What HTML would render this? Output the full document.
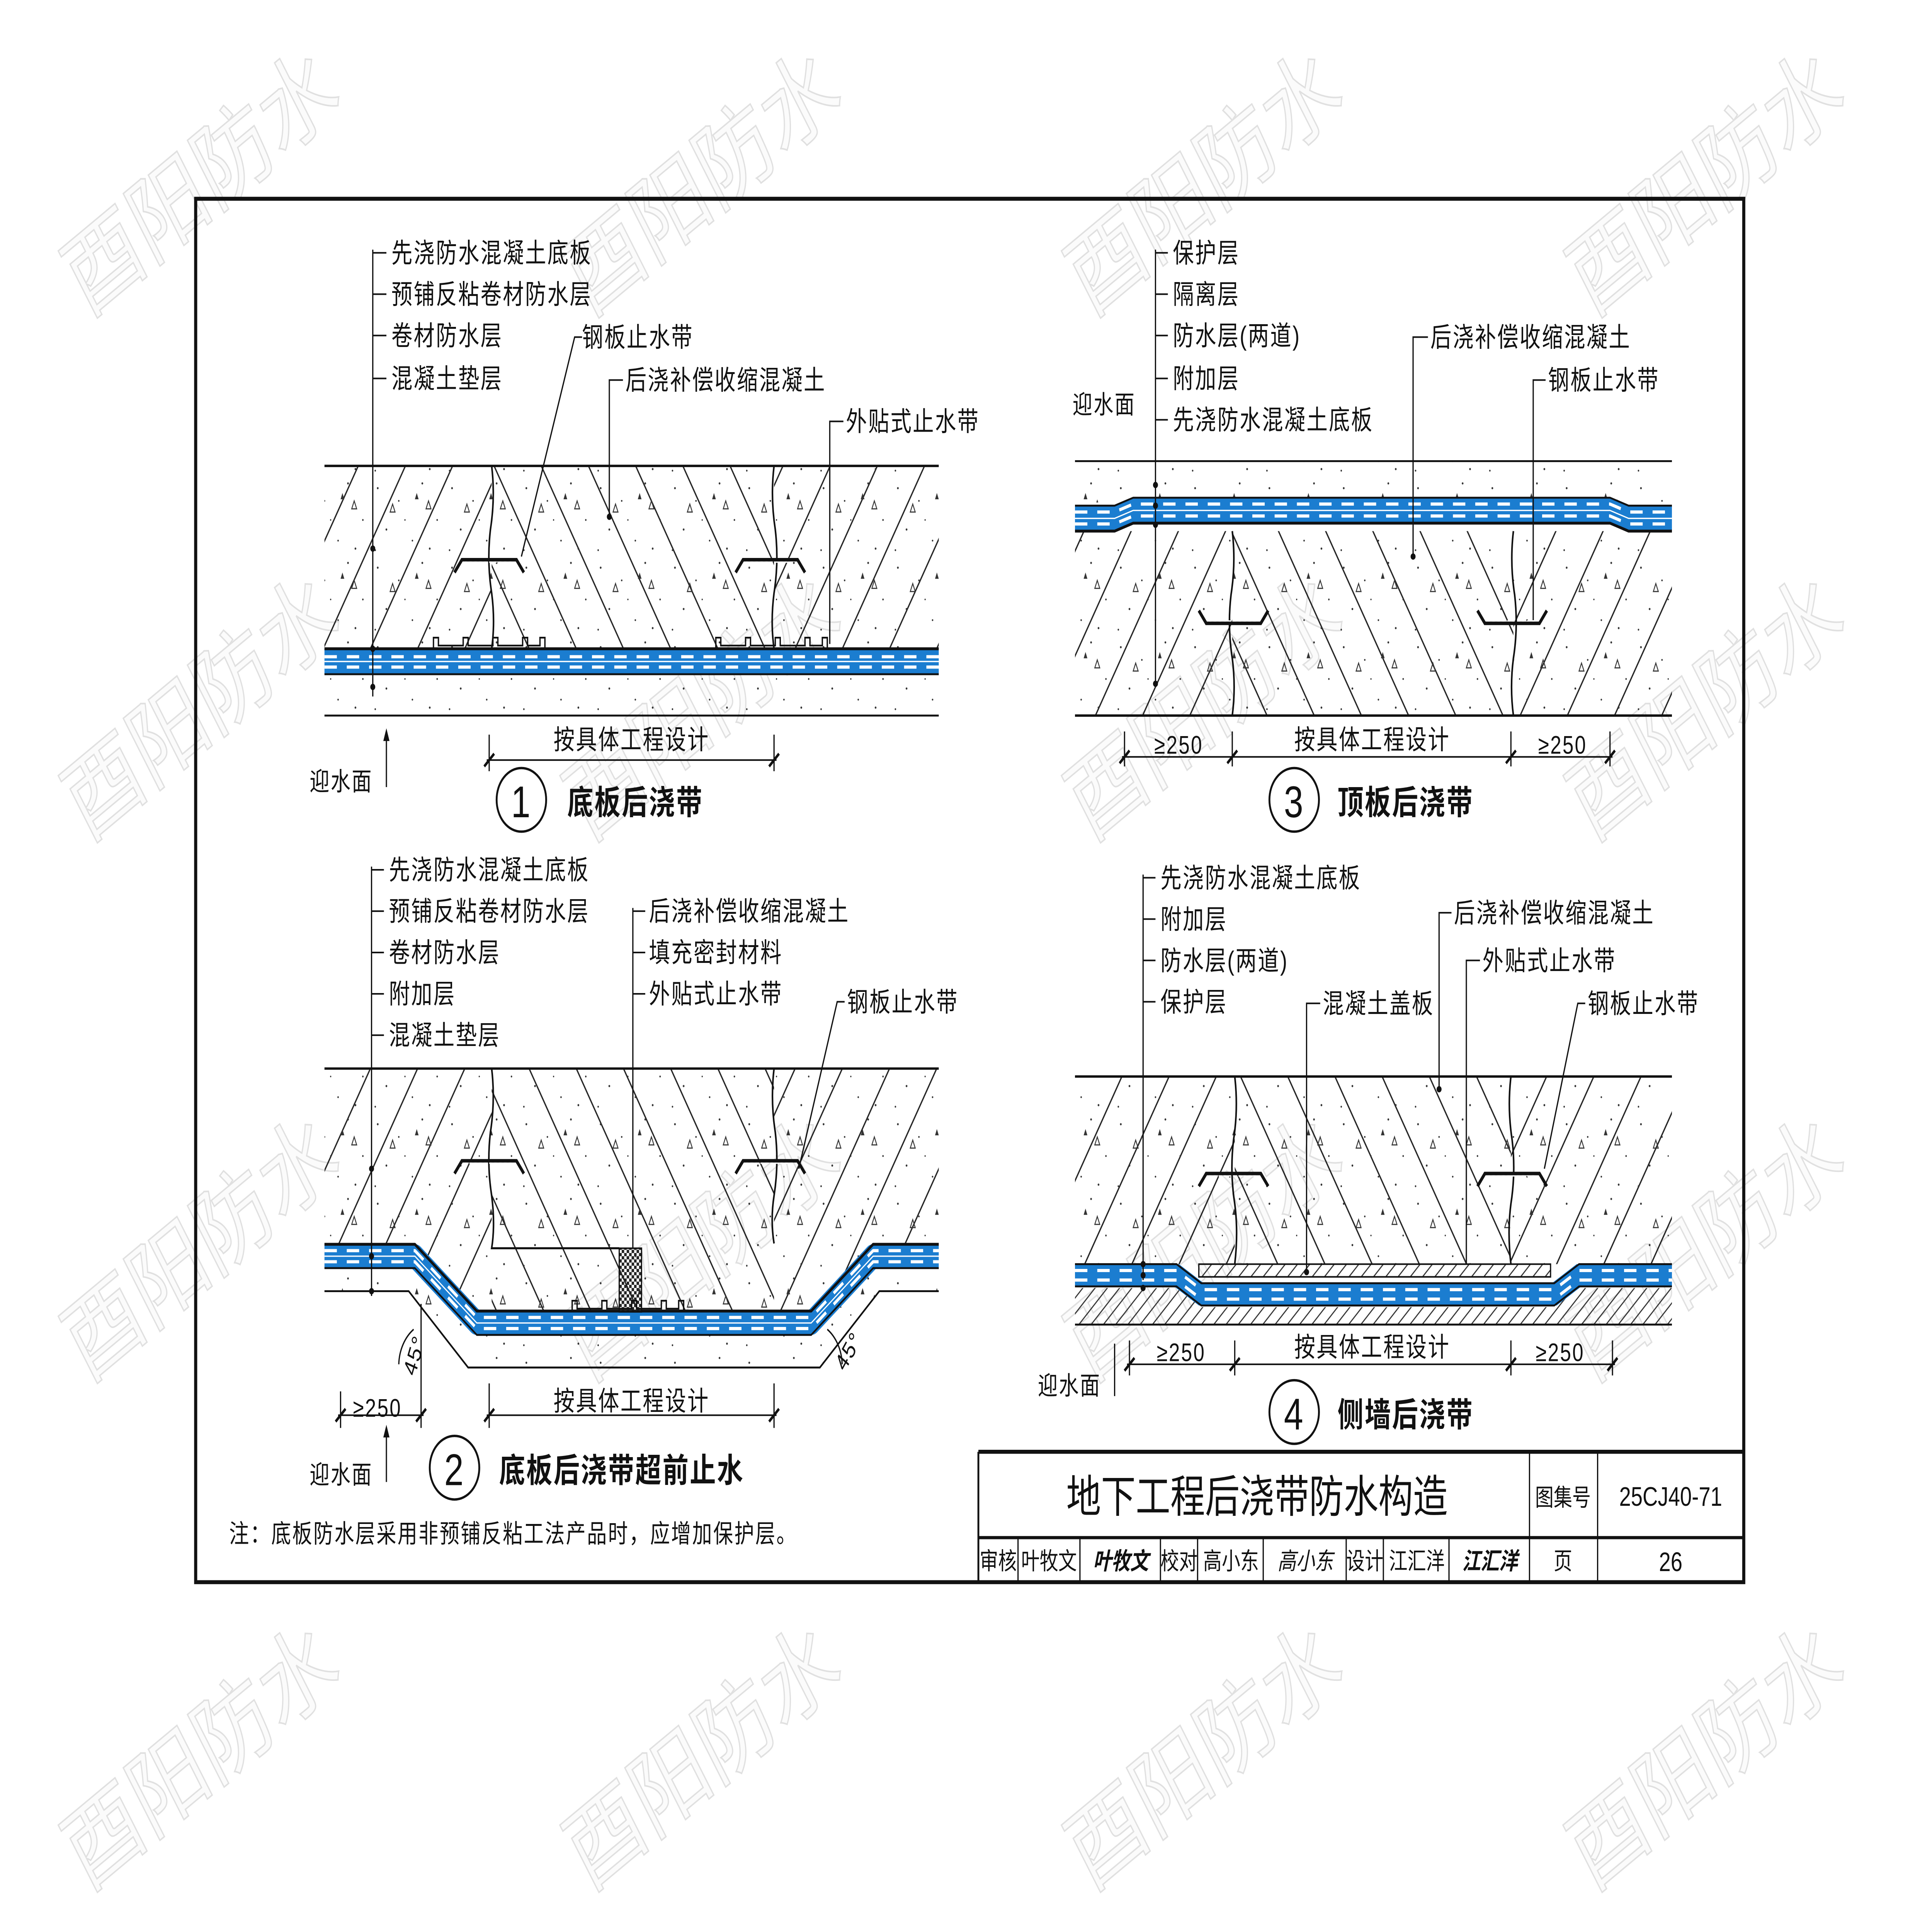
<!DOCTYPE html>
<html><head><meta charset="utf-8"><style>
html,body{margin:0;padding:0;background:#fff;width:100%;height:100%;overflow:hidden}
svg{display:block;width:100vw;height:100vh}
text{font-family:"Liberation Sans","Noto Sans CJK SC",sans-serif}
.t text{fill:#111}
.wm text{fill:#fbfbfb;stroke:#e0e0e0;stroke-width:1}
</style></head><body>
<svg viewBox="0 0 1560 1215" preserveAspectRatio="none" xmlns="http://www.w3.org/2000/svg" xmlns:xlink="http://www.w3.org/1999/xlink">
<defs>
<pattern id="hF" patternUnits="userSpaceOnUse" width="33" height="33" patternTransform="rotate(30)"><line x1="1" y1="0" x2="1" y2="33" stroke="#222" stroke-width="1"/></pattern>
<pattern id="hB" patternUnits="userSpaceOnUse" width="33" height="33" patternTransform="rotate(-30)"><line x1="1" y1="0" x2="1" y2="33" stroke="#222" stroke-width="1"/></pattern>
<pattern id="h45" patternUnits="userSpaceOnUse" width="7" height="7" patternTransform="rotate(45)"><line x1="1" y1="0" x2="1" y2="7" stroke="#333" stroke-width="0.8"/></pattern>
<pattern id="chk" patternUnits="userSpaceOnUse" width="4" height="4"><rect width="2" height="2" fill="#222"/><rect x="2" y="2" width="2" height="2" fill="#222"/></pattern>
<pattern id="dots" patternUnits="userSpaceOnUse" width="60" height="50">
<circle cx="5" cy="7" r="0.7" fill="#333"/><circle cx="22" cy="15" r="0.6" fill="#333"/><circle cx="41" cy="4" r="0.7" fill="#333"/><circle cx="53" cy="27" r="0.6" fill="#333"/><circle cx="12" cy="33" r="0.7" fill="#333"/><circle cx="33" cy="40" r="0.6" fill="#333"/><circle cx="47" cy="45" r="0.7" fill="#333"/><circle cx="27" cy="27" r="0.5" fill="#333"/><circle cx="3" cy="46" r="0.6" fill="#333"/>
<path d="M15,22 l2,-5 l2,5z" fill="none" stroke="#333" stroke-width="0.7"/><path d="M44,20 l2,-5 l2,5z" fill="none" stroke="#333" stroke-width="0.7"/><path d="M35,14 l1.5,-4 l1.5,4z" fill="#333"/>
</pattern>
<g id="plate"><path d="M-28,8 L-22,0 L22,0 L28,8" fill="none" stroke="#111" stroke-width="2.2"/><line x1="-20" y1="1.5" x2="20" y2="1.5" stroke="#fff" stroke-width="0.8" stroke-dasharray="2 2"/></g>
<g id="teeth" fill="none" stroke="#111" stroke-width="1.1"><path d="M0,0 v-7 h4 v5 h20 v-5 h4 v5 h20 v-5 h4 v5 h20 v-5 h4 v5 h10 v-5 h4 v7"/></g>
</defs>

<rect width="1560" height="1215" fill="#fff"/>

<g class="wm" font-size="62">
<text transform="translate(70,200) rotate(-33)">酉阳防水</text>
<text transform="translate(475,200) rotate(-33)">酉阳防水</text>
<text transform="translate(880,200) rotate(-33)">酉阳防水</text>
<text transform="translate(1285,200) rotate(-33)">酉阳防水</text>
<text transform="translate(70,530) rotate(-33)">酉阳防水</text>
<text transform="translate(475,530) rotate(-33)">酉阳防水</text>
<text transform="translate(880,530) rotate(-33)">酉阳防水</text>
<text transform="translate(1285,530) rotate(-33)">酉阳防水</text>
<text transform="translate(70,870) rotate(-33)">酉阳防水</text>
<text transform="translate(475,870) rotate(-33)">酉阳防水</text>
<text transform="translate(880,870) rotate(-33)">酉阳防水</text>
<text transform="translate(1285,870) rotate(-33)">酉阳防水</text>
<text transform="translate(70,1190) rotate(-33)">酉阳防水</text>
<text transform="translate(475,1190) rotate(-33)">酉阳防水</text>
<text transform="translate(880,1190) rotate(-33)">酉阳防水</text>
<text transform="translate(1285,1190) rotate(-33)">酉阳防水</text>
</g>

<rect x="158" y="125" width="1250" height="870" fill="none" stroke="#111" stroke-width="2.5"/>

<g class="t" font-size="17" letter-spacing="1">
<!-- PANEL 1 -->
<rect x="262" y="293" width="135" height="115" fill="url(#hF)"/>
<rect x="397" y="293" width="228" height="115" fill="url(#hB)"/>
<rect x="625" y="293" width="133" height="115" fill="url(#hF)"/>
<rect x="262" y="293" width="496" height="115" fill="url(#dots)"/>
<rect x="262" y="424" width="496" height="26" fill="url(#dots)"/>
<line x1="262" y1="293" x2="758" y2="293" stroke="#111" stroke-width="1.5"/>
<line x1="262" y1="450" x2="758" y2="450" stroke="#111" stroke-width="1.2"/>
<path d="M397,293 q3,20 -1,40 q-3,20 1,40 q3,18 0,35" fill="none" stroke="#111" stroke-width="1.3"/>
<path d="M625,293 q-3,20 1,40 q3,20 -1,40 q-3,18 0,35" fill="none" stroke="#111" stroke-width="1.3"/>
<use href="#plate" x="395" y="352"/><use href="#plate" x="622" y="352"/>
<use href="#teeth" x="350" y="408"/><use href="#teeth" x="578" y="408"/>
<rect x="262" y="408" width="496" height="16" fill="#1b7dd0"/>
<line x1="262" y1="413" x2="758" y2="413" stroke="#fff" stroke-width="2" stroke-dasharray="10 8"/>
<line x1="262" y1="416" x2="758" y2="416" stroke="#fff" stroke-width="0.8"/>
<line x1="262" y1="419.5" x2="758" y2="419.5" stroke="#fff" stroke-width="2" stroke-dasharray="10 8"/>
<line x1="262" y1="408" x2="758" y2="408" stroke="#111" stroke-width="1.8"/>
<line x1="262" y1="424" x2="758" y2="424" stroke="#111" stroke-width="1.2"/>
<g stroke="#111" stroke-width="1" fill="none">
<line x1="301" y1="157" x2="301" y2="438"/>
<line x1="301" y1="159" x2="312" y2="159"/><line x1="301" y1="185" x2="312" y2="185"/><line x1="301" y1="211" x2="312" y2="211"/><line x1="301" y1="238" x2="312" y2="238"/>
<path d="M470,212 h-6 L421,350"/>
<path d="M503,239 h-11 V325"/>
<path d="M681,265 h-11 V405"/>
<line x1="395" y1="462" x2="395" y2="485"/><line x1="625" y1="462" x2="625" y2="485"/>
<line x1="393" y1="478" x2="627" y2="478"/>
<line x1="312" y1="495" x2="312" y2="462"/>
</g>
<g fill="#111"><circle cx="301" cy="345" r="2"/><circle cx="301" cy="408" r="2"/><circle cx="301" cy="432" r="2"/><circle cx="492" cy="325" r="2"/><path d="M312,458 l-2.5,8 h5z"/></g>
<path d="M391,482 l8,-8 M621,482 l8,-8" stroke="#111" stroke-width="1.8"/>
<text x="316" y="165">先浇防水混凝土底板</text>
<text x="316" y="191">预铺反粘卷材防水层</text>
<text x="316" y="217">卷材防水层</text>
<text x="316" y="244">混凝土垫层</text>
<text x="470" y="218">钢板止水带</text>
<text x="505" y="245">后浇补偿收缩混凝土</text>
<text x="683" y="271">外贴式止水带</text>
<text x="447" y="471">按具体工程设计</text>
<text x="250" y="497" font-size="16">迎水面</text>
<circle cx="421" cy="503" r="20" fill="none" stroke="#111" stroke-width="1.5"/>
<text x="421" y="514" font-size="28" text-anchor="middle">1</text>
<text x="458" y="512" font-size="21" font-weight="bold">底板后浇带</text>

<!-- PANEL 3 -->
<rect x="868" y="290" width="482" height="26" fill="url(#dots)"/>
<rect x="868" y="334" width="127" height="116" fill="url(#hF)"/>
<rect x="995" y="334" width="227" height="116" fill="url(#hB)"/>
<rect x="1222" y="334" width="128" height="116" fill="url(#hF)"/>
<rect x="868" y="334" width="482" height="116" fill="url(#dots)"/>
<line x1="868" y1="290" x2="1350" y2="290" stroke="#111" stroke-width="1.2"/>
<line x1="868" y1="450" x2="1350" y2="450" stroke="#111" stroke-width="1.5"/>
<path id="m3" d="M868,325 L900,325 L915,320 L1300,320 L1315,325 L1350,325" fill="none"/>
<g fill="none">
<use href="#m3" stroke="#1b7dd0" stroke-width="15" transform="translate(0,1)"/>
<use href="#m3" stroke="#fff" stroke-width="2" stroke-dasharray="10 8" transform="translate(0,-3)"/>
<use href="#m3" stroke="#fff" stroke-width="0.8" transform="translate(0,1)"/>
<use href="#m3" stroke="#fff" stroke-width="2" stroke-dasharray="10 8" transform="translate(0,4.5)"/>
<use href="#m3" stroke="#111" stroke-width="1.2" transform="translate(0,-7)"/>
<use href="#m3" stroke="#111" stroke-width="1.8" transform="translate(0,9)"/>
</g>
<path d="M995,334 q3,20 -1,40 q-3,20 1,40 q3,18 0,36" fill="none" stroke="#111" stroke-width="1.3"/>
<path d="M1222,334 q-3,20 1,40 q3,20 -1,40 q-3,18 0,36" fill="none" stroke="#111" stroke-width="1.3"/>
<g transform="translate(996,392) scale(1,-1)"><use href="#plate"/></g>
<g transform="translate(1221,392) scale(1,-1)"><use href="#plate"/></g>
<g stroke="#111" stroke-width="1" fill="none">
<line x1="933" y1="157" x2="933" y2="432"/>
<line x1="933" y1="159" x2="943" y2="159"/><line x1="933" y1="185" x2="943" y2="185"/><line x1="933" y1="211" x2="943" y2="211"/><line x1="933" y1="238" x2="943" y2="238"/><line x1="933" y1="264" x2="943" y2="264"/>
<path d="M1153,212 h-12 V350"/>
<path d="M1248,239 h-10 V390"/>
<line x1="908" y1="460" x2="908" y2="482"/><line x1="995" y1="460" x2="995" y2="482"/><line x1="1220" y1="460" x2="1220" y2="482"/><line x1="1300" y1="460" x2="1300" y2="482"/>
<line x1="906" y1="476" x2="1302" y2="476"/>
</g>
<g fill="#111"><circle cx="933" cy="305" r="2"/><circle cx="933" cy="318" r="2"/><circle cx="933" cy="330" r="2"/><circle cx="933" cy="430" r="2"/><circle cx="1141" cy="350" r="2"/></g>
<path d="M904,480 l8,-8 M991,480 l8,-8 M1216,480 l8,-8 M1296,480 l8,-8" stroke="#111" stroke-width="1.8"/>
<text x="947" y="165">保护层</text>
<text x="947" y="191">隔离层</text>
<text x="947" y="217">防水层(两道)</text>
<text x="947" y="244">附加层</text>
<text x="947" y="270">先浇防水混凝土底板</text>
<text x="866" y="260" font-size="16">迎水面</text>
<text x="1155" y="218">后浇补偿收缩混凝土</text>
<text x="1250" y="245">钢板止水带</text>
<text x="932" y="474" font-size="16">≥250</text>
<text x="1045" y="471">按具体工程设计</text>
<text x="1242" y="474" font-size="16">≥250</text>
<circle cx="1045" cy="503" r="20" fill="none" stroke="#111" stroke-width="1.5"/>
<text x="1045" y="514" font-size="28" text-anchor="middle">3</text>
<text x="1080" y="512" font-size="21" font-weight="bold">顶板后浇带</text>

<!-- PANEL 2 -->
<clipPath id="c2"><polygon points="262,672 758,672 758,783 705,783 655,825 385,825 335,783 262,783"/></clipPath>
<g clip-path="url(#c2)">
<rect x="262" y="672" width="135" height="160" fill="url(#hF)"/>
<rect x="397" y="672" width="228" height="160" fill="url(#hB)"/>
<rect x="625" y="672" width="133" height="160" fill="url(#hF)"/>
<rect x="262" y="672" width="496" height="160" fill="url(#dots)"/>
</g>
<polygon points="262,797 335,797 385,839 655,839 705,797 758,797 758,812 710,812 662,860 378,860 330,812 262,812" fill="url(#dots)"/>
<path d="M262,812 H330 L378,860 H662 L710,812 H758" fill="none" stroke="#111" stroke-width="1.2"/>
<line x1="262" y1="672" x2="758" y2="672" stroke="#111" stroke-width="1.5"/>
<path id="m2" d="M262,790 L335,790 L385,832 L655,832 L705,790 L758,790" fill="none"/>
<g fill="none" stroke-linejoin="round">
<use href="#m2" stroke="#1b7dd0" stroke-width="15"/>
<use href="#m2" stroke="#fff" stroke-width="2" stroke-dasharray="10 8" transform="translate(0,-3.5)"/>
<use href="#m2" stroke="#fff" stroke-width="0.8"/>
<use href="#m2" stroke="#fff" stroke-width="2" stroke-dasharray="10 8" transform="translate(0,3.5)"/>
<use href="#m2" stroke="#111" stroke-width="1.8" transform="translate(0,-7.5)"/>
<use href="#m2" stroke="#111" stroke-width="1.2" transform="translate(0,7.5)"/>
</g>
<path d="M397,672 q3,20 -1,40 q-3,20 1,40 q3,18 0,33 H500" fill="none" stroke="#111" stroke-width="1.3"/>
<path d="M625,672 q-3,20 1,40 q3,20 -1,40 q-3,15 0,30" fill="none" stroke="#111" stroke-width="1.3"/>
<rect x="500" y="785" width="18" height="40" fill="url(#chk)" stroke="#111" stroke-width="1"/>
<use href="#plate" x="395" y="730"/><use href="#plate" x="622" y="730"/>
<use href="#teeth" x="462" y="825"/>
<g stroke="#111" stroke-width="1" fill="none">
<line x1="300" y1="545" x2="300" y2="815"/>
<line x1="300" y1="547" x2="310" y2="547"/><line x1="300" y1="573" x2="310" y2="573"/><line x1="300" y1="599" x2="310" y2="599"/><line x1="300" y1="625" x2="310" y2="625"/><line x1="300" y1="651" x2="310" y2="651"/>
<line x1="511" y1="571" x2="511" y2="785"/>
<line x1="511" y1="573" x2="521" y2="573"/><line x1="511" y1="599" x2="521" y2="599"/><line x1="511" y1="625" x2="521" y2="625"/>
<path d="M682,630 h-6 L645,735"/>
<line x1="275" y1="875" x2="275" y2="898"/><line x1="340" y1="820" x2="340" y2="898"/>
<line x1="273" y1="890" x2="342" y2="890"/>
<line x1="395" y1="870" x2="395" y2="898"/><line x1="625" y1="870" x2="625" y2="898"/>
<line x1="393" y1="890" x2="627" y2="890"/>
<line x1="312" y1="932" x2="312" y2="900"/>
<path d="M322,858 a28,28 0 0 1 12,-22"/>
<path d="M680,858 a28,28 0 0 0 -12,-22"/>
</g>
<g fill="#111"><circle cx="300" cy="735" r="2"/><circle cx="300" cy="790" r="2"/><circle cx="300" cy="812" r="2"/><path d="M312,896 l-2.5,8 h5z"/></g>
<path d="M271,894 l8,-8 M336,894 l8,-8 M391,894 l8,-8 M621,894 l8,-8" stroke="#111" stroke-width="1.8"/>
<text x="314" y="553">先浇防水混凝土底板</text>
<text x="314" y="579">预铺反粘卷材防水层</text>
<text x="314" y="605">卷材防水层</text>
<text x="314" y="631">附加层</text>
<text x="314" y="657">混凝土垫层</text>
<text x="524" y="579">后浇补偿收缩混凝土</text>
<text x="524" y="605">填充密封材料</text>
<text x="524" y="631">外贴式止水带</text>
<text x="684" y="636">钢板止水带</text>
<text transform="translate(335,866) rotate(-70)" font-size="15">45°</text>
<text transform="translate(682,863) rotate(-55)" font-size="15">45°</text>
<text x="285" y="891" font-size="16">≥250</text>
<text x="447" y="887">按具体工程设计</text>
<text x="250" y="933" font-size="16">迎水面</text>
<circle cx="367" cy="923" r="20" fill="none" stroke="#111" stroke-width="1.5"/>
<text x="367" y="934" font-size="28" text-anchor="middle">2</text>
<text x="403" y="932" font-size="21" font-weight="bold">底板后浇带超前止水</text>
<text x="185" y="970" font-size="16">注：底板防水层采用非预铺反粘工法产品时，应增加保护层。</text>

<!-- PANEL 4 -->
<rect x="868" y="677" width="129" height="118" fill="url(#hF)"/>
<rect x="997" y="677" width="223" height="118" fill="url(#hB)"/>
<rect x="1220" y="677" width="130" height="118" fill="url(#hF)"/>
<rect x="868" y="677" width="482" height="118" fill="url(#dots)"/>
<line x1="868" y1="677" x2="1350" y2="677" stroke="#111" stroke-width="1.5"/>
<polygon points="868,810 950,810 970,822 1255,822 1275,810 1350,810 1350,833 868,833" fill="url(#h45)"/>
<line x1="868" y1="833" x2="1350" y2="833" stroke="#111" stroke-width="1.2"/>
<path id="m4" d="M868,802 L950,802 L970,814 L1255,814 L1275,802 L1350,802" fill="none"/>
<g fill="none">
<use href="#m4" stroke="#1b7dd0" stroke-width="14"/>
<use href="#m4" stroke="#fff" stroke-width="2" stroke-dasharray="10 8" transform="translate(0,-3)"/>
<use href="#m4" stroke="#fff" stroke-width="2" stroke-dasharray="10 8" transform="translate(0,3)"/>
<use href="#m4" stroke="#111" stroke-width="1.2" transform="translate(0,-7)"/>
<use href="#m4" stroke="#111" stroke-width="1.2" transform="translate(0,7)"/>
</g>
<rect x="968" y="795" width="284" height="8" fill="url(#h45)" stroke="#111" stroke-width="1"/>
<path d="M997,677 q3,20 -1,40 q-3,20 1,40 q3,18 0,38" fill="none" stroke="#111" stroke-width="1.3"/>
<path d="M1220,677 q-3,20 1,40 q3,20 -1,40 q-3,18 0,38" fill="none" stroke="#111" stroke-width="1.3"/>
<use href="#plate" x="996" y="738"/><use href="#plate" x="1221" y="738"/>
<g stroke="#111" stroke-width="1" fill="none">
<line x1="923" y1="550" x2="923" y2="805"/>
<line x1="923" y1="552" x2="933" y2="552"/><line x1="923" y1="578" x2="933" y2="578"/><line x1="923" y1="604" x2="933" y2="604"/><line x1="923" y1="630" x2="933" y2="630"/>
<path d="M1066,631 h-11 V800"/>
<path d="M1172,574 h-10 V685"/>
<path d="M1195,604 h-11 V795"/>
<path d="M1280,631 h-6 L1247,735"/>
<line x1="912" y1="843" x2="912" y2="865"/><line x1="997" y1="843" x2="997" y2="865"/><line x1="1220" y1="843" x2="1220" y2="865"/><line x1="1302" y1="843" x2="1302" y2="865"/>
<line x1="910" y1="858" x2="1304" y2="858"/>
<line x1="900" y1="878" x2="900" y2="845"/>
</g>
<g fill="#111"><circle cx="923" cy="795" r="2"/><circle cx="923" cy="802" r="2"/><circle cx="923" cy="810" r="2"/><circle cx="1055" cy="800" r="2"/><circle cx="1162" cy="685" r="2"/></g>
<path d="M908,862 l8,-8 M993,862 l8,-8 M1216,862 l8,-8 M1298,862 l8,-8" stroke="#111" stroke-width="1.8"/>
<text x="937" y="558">先浇防水混凝土底板</text>
<text x="937" y="584">附加层</text>
<text x="937" y="610">防水层(两道)</text>
<text x="937" y="636">保护层</text>
<text x="1068" y="637">混凝土盖板</text>
<text x="1174" y="580">后浇补偿收缩混凝土</text>
<text x="1197" y="610">外贴式止水带</text>
<text x="1282" y="637">钢板止水带</text>
<text x="934" y="856" font-size="16">≥250</text>
<text x="1045" y="853">按具体工程设计</text>
<text x="1240" y="856" font-size="16">≥250</text>
<text x="838" y="877" font-size="16">迎水面</text>
<circle cx="1045" cy="888" r="20" fill="none" stroke="#111" stroke-width="1.5"/>
<text x="1045" y="899" font-size="28" text-anchor="middle">4</text>
<text x="1080" y="897" font-size="21" font-weight="bold">侧墙后浇带</text>
</g>

<!-- TITLE BLOCK -->
<g stroke="#111" fill="none">
<line x1="790" y1="913" x2="1408" y2="913" stroke-width="2.5"/>
<line x1="790" y1="913" x2="790" y2="995" stroke-width="1.5"/>
<line x1="790" y1="967" x2="1408" y2="967" stroke-width="2"/>
<line x1="1235" y1="913" x2="1235" y2="995" stroke-width="1"/>
<line x1="1290" y1="913" x2="1290" y2="995" stroke-width="1"/>
<g stroke-width="1">
<line x1="822" y1="967" x2="822" y2="995"/><line x1="872" y1="967" x2="872" y2="995"/><line x1="937" y1="967" x2="937" y2="995"/><line x1="967" y1="967" x2="967" y2="995"/><line x1="1020" y1="967" x2="1020" y2="995"/><line x1="1087" y1="967" x2="1087" y2="995"/><line x1="1117" y1="967" x2="1117" y2="995"/><line x1="1170" y1="967" x2="1170" y2="995"/>
</g>
</g>
<g class="t">
<text x="1015" y="951" font-size="28" text-anchor="middle">地下工程后浇带防水构造</text>
<text x="1262" y="947" font-size="15" text-anchor="middle">图集号</text>
<text x="1349" y="947" font-size="17" text-anchor="middle">25CJ40-71</text>
<g font-size="15" text-anchor="middle">
<text x="806" y="987">审核</text><text x="847" y="987">叶牧文</text>
<text x="905" y="987" font-weight="bold" font-style="italic">叶牧文</text>
<text x="952" y="987">校对</text><text x="994" y="987">高小东</text>
<text x="1054" y="987" font-style="italic">高小东</text>
<text x="1102" y="987">设计</text><text x="1144" y="987">江汇洋</text>
<text x="1203" y="987" font-style="italic" font-weight="bold">江汇洋</text>
<text x="1262" y="987">页</text><text x="1349" y="988" font-size="17">26</text>
</g>
</g>
</svg>
</body></html>
